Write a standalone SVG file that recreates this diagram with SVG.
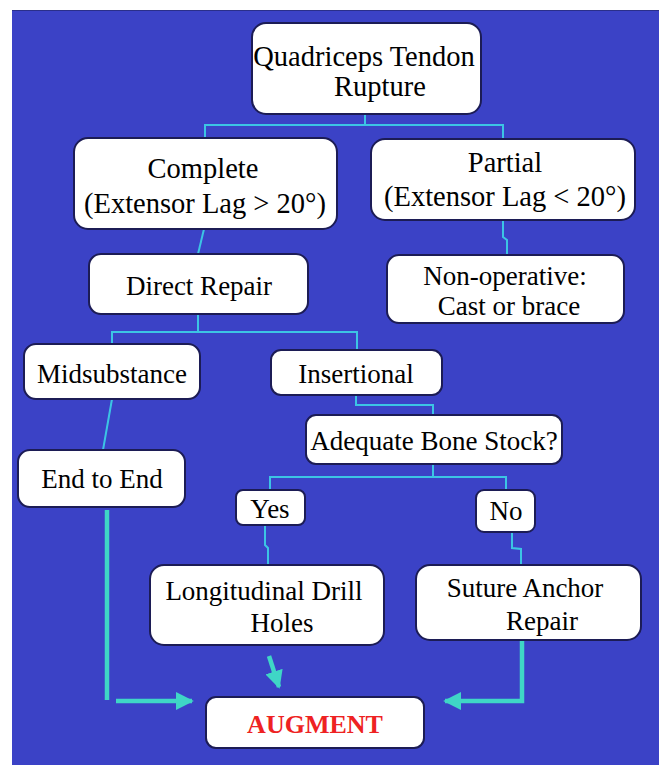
<svg xmlns="http://www.w3.org/2000/svg" width="659" height="765" viewBox="0 0 659 765">
<defs>
<style>
.box{fill:#ffffff;stroke:#1c1c55;stroke-width:2}
.t{font-family:'Liberation Serif','Times New Roman','DejaVu Serif',serif;font-size:27px;fill:#000;text-anchor:middle}
.big{font-size:28.5px}
.aug{font-family:'Liberation Serif','Times New Roman','DejaVu Serif',serif;font-size:26px;font-weight:bold;fill:#ee2222;text-anchor:middle}
.thin{fill:none;stroke:#3cc4e4;stroke-width:2}
.thick{fill:none;stroke:#3fd6c6;stroke-width:4.5}
</style>
<marker id="ah" viewBox="0 0 10 10" refX="9" refY="5" markerWidth="4" markerHeight="4" orient="auto" markerUnits="strokeWidth">
<path d="M0,0 L10,5 L0,10 z" fill="#3fd6c6"/>
</marker>
</defs>
<rect x="0" y="0" width="659" height="765" fill="#ffffff"/>
<rect x="12" y="10" width="647" height="755" fill="#3b42c6"/>
<line x1="12" y1="10.5" x2="659" y2="10.5" stroke="#2a2f8a" stroke-width="1"/>

<g id="connectors">
<polyline class="thin" points="365,114 365,125"/>
<polyline class="thin" points="205,138 205,125 503,125 503,138"/>
<polyline class="thin" points="204,229 198,254"/>
<polyline class="thin" points="503,220 503,237 507,240 507,255"/>
<polyline class="thin" points="198,314 198,332"/>
<polyline class="thin" points="112,344 112,332 357,332 357,350"/>
<polyline class="thin" points="112,399 103,450"/>
<polyline class="thin" points="356,395 356,405 433,405 433,415"/>
<polyline class="thin" points="433,464 433,477"/>
<polyline class="thin" points="270,490 270,477 506,477 506,490"/>
<polyline class="thin" points="265,525 265,545 268,548 268,565"/>
<polyline class="thin" points="512,532 512,548 521,549 521,565"/>
<polyline class="thick" points="107,510 107,700"/>
<polyline class="thick" points="116,701 192,701" marker-end="url(#ah)"/>
<polyline class="thick" points="269,656 279,687" marker-end="url(#ah)"/>
<polyline class="thick" points="522,640 522,701 445,701" marker-end="url(#ah)"/>
</g>

<g id="n-rupture">
<rect class="box" x="252" y="23" width="229" height="91" rx="14"/>
<text class="t big" x="364" y="66">Quadriceps Tendon</text>
<text class="t big" x="380" y="96">Rupture</text>
</g>

<g id="n-complete">
<rect class="box" x="74" y="138" width="263" height="91" rx="14"/>
<text class="t big" x="203" y="178">Complete</text>
<text class="t big" x="205" y="213">(Extensor Lag &gt; 20°)</text>
</g>

<g id="n-partial">
<rect class="box" x="371" y="139" width="264" height="81" rx="14"/>
<text class="t big" x="505" y="172">Partial</text>
<text class="t big" x="505" y="206">(Extensor Lag &lt; 20°)</text>
</g>

<g id="n-direct">
<rect class="box" x="89" y="254" width="219" height="60" rx="12"/>
<text class="t" x="199" y="295">Direct Repair</text>
</g>

<g id="n-nonop">
<rect class="box" x="387" y="255" width="237" height="68" rx="12"/>
<text class="t" x="505" y="285">Non-operative:</text>
<text class="t" x="509" y="315">Cast or brace</text>
</g>

<g id="n-midsub">
<rect class="box" x="24" y="344" width="176" height="55" rx="12"/>
<text class="t" x="112" y="383">Midsubstance</text>
</g>

<g id="n-insertional">
<rect class="box" x="271" y="350" width="171" height="45" rx="10"/>
<text class="t" x="356" y="383">Insertional</text>
</g>

<g id="n-adequate">
<rect class="box" x="306" y="415" width="256" height="49" rx="10"/>
<text class="t" x="434" y="450">Adequate Bone Stock?</text>
</g>

<g id="n-endtoend">
<rect class="box" x="18" y="450" width="167" height="57" rx="12"/>
<text class="t" x="102" y="488">End to End</text>
</g>

<g id="n-yes">
<rect class="box" x="236" y="490" width="69" height="35" rx="7"/>
<text class="t" x="270" y="518">Yes</text>
</g>

<g id="n-no">
<rect class="box" x="476" y="490" width="59" height="42" rx="8"/>
<text class="t" x="506" y="520">No</text>
</g>

<g id="n-drill">
<rect class="box" x="150" y="565" width="234" height="80" rx="14"/>
<text class="t" x="264" y="600">Longitudinal Drill</text>
<text class="t" x="282" y="632">Holes</text>
</g>

<g id="n-suture">
<rect class="box" x="416" y="565" width="225" height="75" rx="14"/>
<text class="t" x="525" y="597">Suture Anchor</text>
<text class="t" x="542" y="630">Repair</text>
</g>

<g id="n-augment">
<rect class="box" x="206" y="697" width="218" height="51" rx="10"/>
<text class="aug" x="315" y="733">AUGMENT</text>
</g>
</svg>
